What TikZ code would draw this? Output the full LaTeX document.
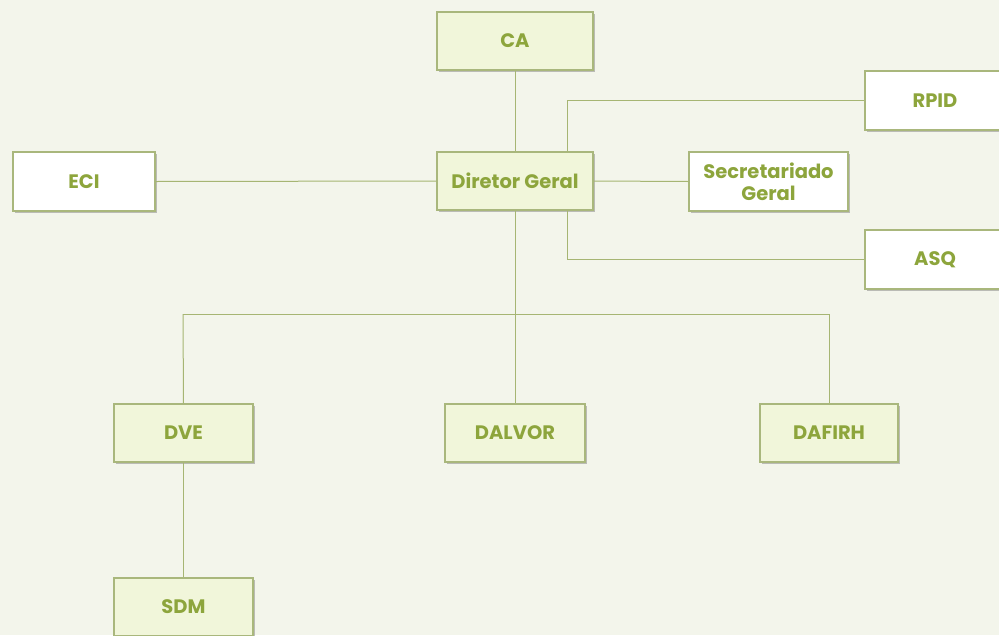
\documentclass[tikz,border=0pt]{standalone}
\usepackage{fontspec}
\setmainfont{Poppins}
\usetikzlibrary{shadows}
\definecolor{bg}{HTML}{F3F5EB}
\definecolor{boxg}{HTML}{F1F6DA}
\definecolor{txt}{HTML}{8DA53C}
\definecolor{bord}{HTML}{A9B77C}
\definecolor{conn}{HTML}{A6B573}
\tikzset{
  box/.style={draw=bord, line width=1.2pt, fill=boxg, minimum width=156pt, minimum height=58pt,
    inner sep=0pt, align=center, text=txt, font=\fontsize{19.5}{22}\selectfont\bfseries,
    drop shadow={shadow xshift=1.8pt, shadow yshift=-1.8pt, opacity=0.4, fill=black!60}},
  wbox/.style={box, fill=white},
  conn/.style={draw=conn, line width=1pt},
}
\begin{document}
\begin{tikzpicture}[x=1pt,y=-1pt]
\fill[bg] (0,0) rectangle (999,635);
\useasboundingbox (0,0) rectangle (999,635);
\node[box] (ca) at (515,41) {CA};
\node[box] (dg) at (515,181) {Diretor Geral};
\node[wbox, minimum width=142pt, minimum height=59pt] (eci) at (84,181.5) {ECI};
\node[wbox, minimum width=159pt, minimum height=59pt] (sg) at (768.5,181.5) {Secretariado\\Geral};
\node[wbox, minimum width=140pt, minimum height=59pt] (rpid) at (935,100.5) {RPID};
\node[wbox, minimum width=140pt, minimum height=59pt] (asq) at (935,259.5) {ASQ};
\node[box, minimum width=139pt] (dve) at (183.5,433) {DVE};
\node[box, minimum width=140pt] (dalvor) at (515,433) {DALVOR};
\node[box, minimum width=138pt] (dafirh) at (829,433) {DAFIRH};
\node[box, minimum width=139pt] (sdm) at (183.5,607) {SDM};
\coordinate (hl) at (183,314);
\coordinate (hr) at (829,314);
\draw[conn] (ca.south) -- (dg.north);
\draw[conn] (eci.east) -- (dg.west);
\draw[conn] (dg.east) -- (sg.west);
\draw[conn] (dg.north -| 567,0) |- (rpid.west);
\draw[conn] (dg.south -| 567,0) |- (asq.west);
\draw[conn] (dg.south) -- (dalvor.north);
\draw[conn] (hl) -- (hr);
\draw[conn] (hl) -- (dve.north);
\draw[conn] (hr) -- (dafirh.north);
\draw[conn] (dve.south) -- (sdm.north);
\end{tikzpicture}
\end{document}
